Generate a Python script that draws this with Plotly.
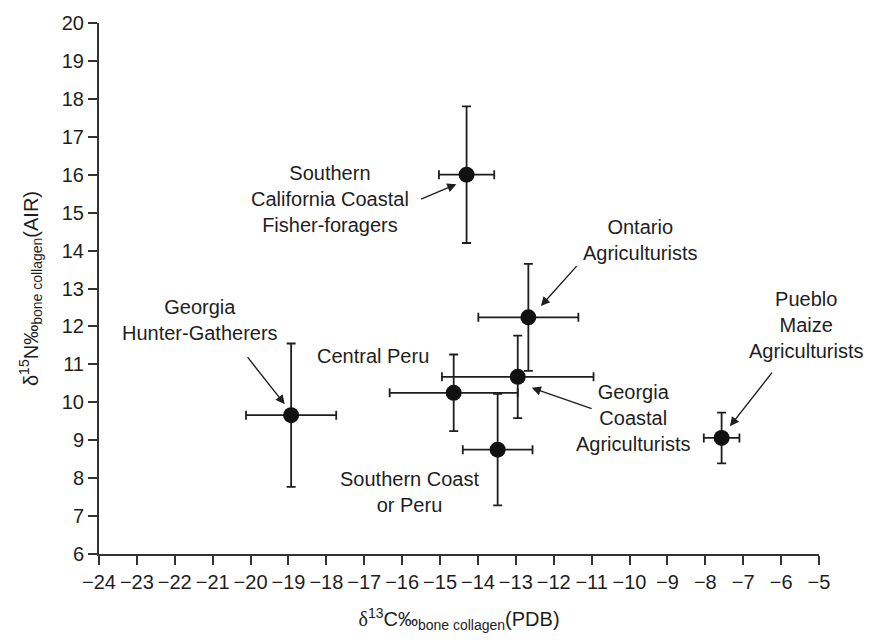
import plotly.graph_objects as go

# Mean bone-collagen isotope values per population, with spread
groups = [
    "Southern California Coastal Fisher-foragers",
    "Ontario Agriculturists",
    "Georgia Hunter-Gatherers",
    "Central Peru",
    "Georgia Coastal Agriculturists",
    "Southern Coast or Peru",
    "Pueblo Maize Agriculturists",
]
d13c = [-14.3, -12.67, -18.93, -14.64, -12.95, -13.48, -7.57]
d13c_err = [0.73, 1.32, 1.19, 1.69, 2.0, 0.92, 0.47]
d15n = [16.0, 12.24, 9.66, 10.25, 10.67, 8.75, 9.06]
d15n_err = [1.8, 1.41, 1.89, 1.01, 1.09, 1.47, 0.67]

# Label text, its centre, and optional leader arrow (tail -> head)
label_text = [
    "Southern<br>California Coastal<br>Fisher-foragers",
    "Ontario<br>Agriculturists",
    "Georgia<br>Hunter-Gatherers",
    "Central Peru",
    "Georgia<br>Coastal<br>Agriculturists",
    "Southern Coast<br>or Peru",
    "Pueblo<br>Maize<br>Agriculturists",
]
label_pos = [(-17.91, 15.37), (-9.73, 14.29), (-21.34, 12.16), (-16.78, 11.21),
             (-9.91, 9.58), (-15.80, 7.63), (-5.33, 12.05)]
arrows = [((-15.54, 15.34), (-14.57, 15.75)),
          ((-11.36, 13.63), (-12.34, 12.54)),
          ((-20.11, 11.23), (-19.10, 9.95)),
          None,
          ((-10.96, 9.82), (-12.58, 10.38)),
          None,
          ((-6.21, 10.82), (-7.35, 9.37))]

ink = "#1e1e1e"
font_family = "Liberation Sans, Arial, sans-serif"
fsize = 20

fig = go.Figure()
fig.add_trace(go.Scatter(
    x=d13c, y=d15n, mode="markers", text=groups, hoverinfo="text+x+y",
    marker=dict(size=16, color="#111111"),
    error_x=dict(type="data", array=d13c_err, visible=True, color=ink, thickness=1.8, width=4.5),
    error_y=dict(type="data", array=d15n_err, visible=True, color=ink, thickness=1.8, width=4.5),
    cliponaxis=False, showlegend=False,
))

annotations = []
for txt, (lx, ly), arr in zip(label_text, label_pos, arrows):
    annotations.append(dict(x=lx, y=ly, xref="x", yref="y", text=txt, showarrow=False,
                            font=dict(size=fsize, color=ink, family=font_family),
                            align="center", xanchor="center", yanchor="middle"))
    if arr is not None:
        (tx, ty), (hx, hy) = arr
        annotations.append(dict(x=hx, y=hy, ax=tx, ay=ty, xref="x", yref="y",
                                axref="x", ayref="y", text="", showarrow=True,
                                arrowhead=2, arrowsize=1.3, arrowwidth=1.4,
                                arrowcolor=ink, standoff=0, startstandoff=0))

axis_common = dict(
    showgrid=False, zeroline=False, showline=True, linecolor="#333333", linewidth=2,
    ticks="outside", ticklen=9, tickwidth=1.6, tickcolor="#333333",
    tickfont=dict(size=fsize, color=ink, family=font_family), mirror=False,
)

fig.update_layout(
    width=870, height=640,
    margin=dict(l=99, r=51, t=15, b=86),
    paper_bgcolor="white", plot_bgcolor="white",
    font=dict(family=font_family, color=ink),
    xaxis=dict(range=[-24, -5], dtick=1, tick0=-24, tickangle=0,
               title=dict(text="<span style='font-family:Liberation Serif'>δ</span><sup>13</sup>C‰<sub>bone collagen</sub>(PDB)",
                          font=dict(size=fsize, color=ink), standoff=20),
               **axis_common),
    yaxis=dict(range=[6, 20], dtick=1, tick0=6,
               title=dict(text="δ<sup>15</sup>N‰<sub>bone collagen</sub>(AIR)",
                          font=dict(size=fsize, color=ink), standoff=18),
               **axis_common),
    annotations=annotations,
)

fig.write_html("out.html")
